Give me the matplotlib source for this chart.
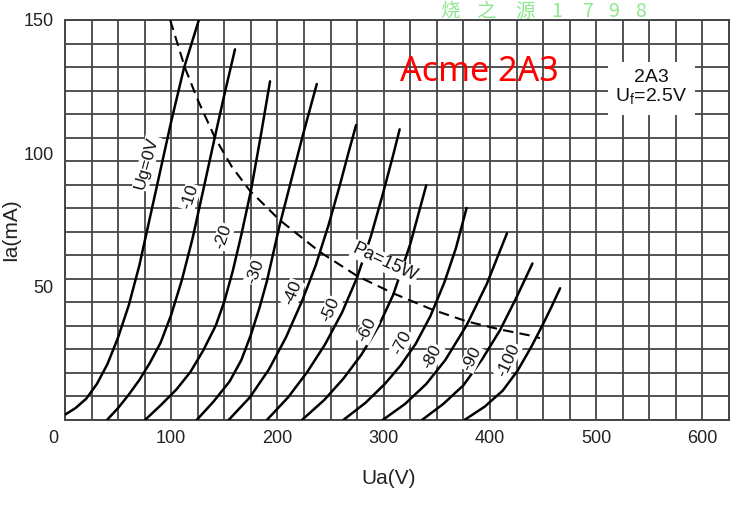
import numpy as np
import matplotlib.pyplot as plt
import matplotlib.transforms as mtransforms

# Анодные характеристики 2A3: Ua (В) и Ia (мА) для каждого напряжения сетки
ua_0 = [0, 10, 20, 30, 40, 50, 60, 70, 80, 90, 100, 112, 126]
ia_0 = [2, 4.5, 8, 13.5, 21, 31, 43, 58, 76, 94, 112, 132, 150]

ua_m10 = [39.5, 50, 60, 70, 80, 90, 100, 110, 120, 130, 141, 150, 160]
ia_m10 = [0, 4.5, 9.5, 15, 21.5, 29, 39.5, 52.5, 68, 86, 106, 122, 139]

ua_m20 = [75.3, 90, 105, 118, 130, 142, 150, 158, 166, 175, 184, 193]
ia_m20 = [0, 5.5, 11.5, 18, 26, 35.5, 44.5, 56, 69.5, 86, 106, 127]

ua_m30 = [124, 140, 155, 166, 175, 183, 190, 196, 202, 213, 224, 237]
ia_m30 = [0, 7, 14.5, 22.5, 32, 42, 52, 62.5, 73, 90, 107, 126]

ua_m40 = [154, 174, 192, 208, 223, 236, 248, 259, 267, 274]
ia_m40 = [0, 8.5, 19, 31, 44.5, 58, 73, 88.5, 100.5, 110.6]

ua_m50 = [190, 210, 228, 245, 261, 275, 288, 299, 309, 315]
ia_m50 = [0, 8.5, 18, 28.5, 40.5, 53.5, 69, 84.5, 99.5, 109]

ua_m60 = [223, 244, 262, 279, 295, 309, 325, 340]
ia_m60 = [0, 7.5, 15.5, 24.5, 35, 47, 66, 88]

ua_m70 = [262, 283, 301, 316, 330, 344, 357, 368, 378]
ia_m70 = [0, 6.5, 13.5, 20.5, 28.5, 39, 51.5, 64.5, 79.5]

ua_m80 = [299, 320, 340, 358, 378, 397, 416]
ia_m80 = [0, 6, 13.5, 22.5, 35.5, 51, 70]

ua_m90 = [336, 356, 375, 393, 409.5, 425, 440]
ia_m90 = [0, 6, 13, 23, 33.7, 46, 58.7]

ua_m100 = [376, 395, 412, 426, 439, 450, 458, 466]
ia_m100 = [0, 5, 11, 18.5, 27.5, 36, 42.5, 49.4]

# Кривая допустимой мощности рассеяния Pa=15W
pa_ua = [99, 106, 113, 125, 141, 157, 174, 202, 240, 275, 309, 345, 378, 409, 440, 447]
pa_ia = [150, 141, 132, 120, 106, 95, 86, 75, 63, 54, 47.5, 41.5, 37, 34, 31.5, 30.7]

# Подписи кривых и их положение
curve_labels = ['Ug=0V', '-10', '-20', '-30', '-40', '-50', '-60', '-70', '-80', '-90', '-100']
label_ua = [77, 117.6, 149, 178.8, 214.6, 249.4, 284, 317, 345.5, 382.8, 417]
label_ia = [96.4, 83.6, 68.7, 55.6, 47.6, 41.2, 33.7, 29, 23.6, 23.1, 22.5]

x_ticks = [0, 100, 200, 300, 400, 500, 600]
y_ticks = [50, 100, 150]

watermark = ['烧', '之', '源', '1', '7', '9', '8']
watermark_x = [450, 486, 525, 557, 588, 614, 641]

curves = [(ua_0, ia_0), (ua_m10, ia_m10), (ua_m20, ia_m20), (ua_m30, ia_m30),
          (ua_m40, ia_m40), (ua_m50, ia_m50), (ua_m60, ia_m60), (ua_m70, ia_m70),
          (ua_m80, ia_m80), (ua_m90, ia_m90), (ua_m100, ia_m100)]

plt.rcParams['font.family'] = ['Liberation Sans', 'DejaVu Sans']

fig = plt.figure(figsize=(7.5, 5.19), dpi=100)
ax = fig.add_axes([65 / 750, 1 - 420 / 519, 664 / 750, 400 / 519])

grid_color = '#454545'
ax.set_xlim(0, 625)
ax.set_ylim(0, 150)

# Сетка миллиметровки
for gx in np.arange(0, 626, 25):
    ax.axvline(gx, color=grid_color, lw=1.3, zorder=1)
for gy in np.linspace(0, 150, 18):
    ax.axhline(gy, color=grid_color, lw=1.3, zorder=1)

for s in ax.spines.values():
    s.set_color(grid_color)
    s.set_linewidth(1.4)

# Характеристики
for ua, ia in curves:
    ax.plot(ua, ia, color='black', lw=1.8, zorder=3,
            solid_capstyle='round', solid_joinstyle='round')

ax.plot(pa_ua, pa_ia, color='black', lw=1.5, dashes=(5, 3), zorder=3)

rotations = [75, 72, 71, 70, 68, 66, 64, 63, 63, 64, 65]
for txt, x, y, r in zip(curve_labels, label_ua, label_ia, rotations):
    ax.text(x, y, txt, rotation=r, ha='center', va='center', fontsize=12.5,
            color='#111111', zorder=4,
            bbox=dict(boxstyle='square,pad=0.05', fc='white', ec='none'))

ax.text(301, 59, 'Pa=15W', rotation=-25, ha='center', va='center', fontsize=13,
        color='#111111', zorder=4,
        bbox=dict(boxstyle='square,pad=0.05', fc='white', ec='none'))

# Табличка с типом лампы
ax.text(552, 124.5, '2A3\nU$_\\mathregular{f}$=2.5V', ha='center', va='center',
        fontsize=14, linespacing=1.05, color='#111111', zorder=5,
        bbox=dict(boxstyle='square,pad=0.4', fc='white', ec='none'))

ax.text(390, 130.5, 'Acme 2A3', ha='center', va='center', fontsize=24.5,
        color='#ff0000', family=['Noto Sans', 'DejaVu Sans'], zorder=6)

for ch, x in zip(watermark, watermark_x):
    fig.text(x / 750, 1 - 1 / 519, ch, ha='center', va='top', fontsize=14,
             color='#8ee88e', family=['Noto Sans CJK SC', 'DejaVu Sans'])

ax.set_xticks(x_ticks)
ax.set_yticks(y_ticks)
ax.tick_params(length=0, labelsize=13, colors='#222222')
ax.tick_params(axis='x', pad=7)
ax.tick_params(axis='y', pad=8)
# "0" в углу сдвинут влево
offset = mtransforms.ScaledTranslation(-12 / 100, 0, fig.dpi_scale_trans)
ax.get_xticklabels()[0].set_transform(ax.get_xticklabels()[0].get_transform() + offset)

ax.set_xlabel('Ua(V)', fontsize=15, color='#222222', va='center')
ax.set_ylabel('Ia(mA)', fontsize=15, color='#222222', va='center')
ax.xaxis.set_label_coords(0.488, -0.145)
ax.yaxis.set_label_coords(-0.082, 0.475)

fig.savefig('out.png', dpi=100, facecolor='white')
